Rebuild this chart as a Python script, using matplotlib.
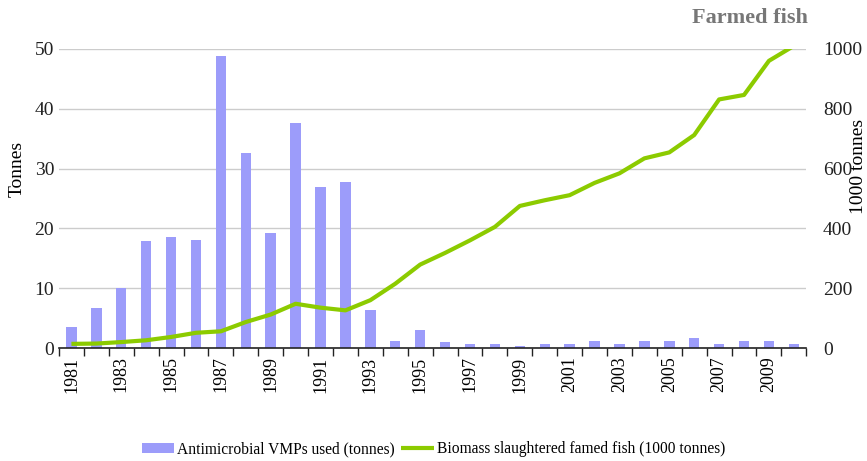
import numpy as np
import matplotlib.pyplot as plt

plt.rcParams['font.family'] = ['Liberation Serif', 'DejaVu Serif']

years = list(range(1981, 2011))
antimicrobial = [3.6, 6.7, 10.0, 17.9, 18.5, 18.1, 48.8, 32.6, 19.3, 37.6,
                 26.9, 27.7, 6.3, 1.2, 3.0, 1.0, 0.6, 0.7, 0.4, 0.7,
                 0.7, 1.2, 0.7, 1.1, 1.2, 1.6, 0.7, 1.1, 1.2, 0.7]
biomass = [14, 15, 20, 26, 37, 51, 56, 87, 112, 148,
           135, 126, 160, 215, 279, 318, 360, 405, 475, 494,
           511, 552, 584, 634, 654, 712, 831, 846, 960, 1010]

bar_color = '#9c9cfa'
line_color = '#8ccb00'

fig = plt.figure(figsize=(8.67, 4.61), dpi=100)
ax = fig.add_axes([0.068, 0.245, 0.862, 0.649])
ax2 = ax.twinx()

x = np.arange(len(years))
bars = ax.bar(x, antimicrobial, width=0.42, color=bar_color, zorder=2,
              label='Antimicrobial VMPs used (tonnes)')
line, = ax2.plot(x, biomass, color=line_color, lw=3, solid_capstyle='butt',
                 label='Biomass slaughtered famed fish (1000 tonnes)')

ax.set_xlim(-0.5, len(years) - 0.5)
ax.set_ylim(0, 50)
ax2.set_ylim(0, 1000)
ax.set_yticks(range(0, 51, 10))
ax2.set_yticks(range(0, 1001, 200))
ax.yaxis.grid(True, color='#cccccc', lw=1, zorder=0)
ax.set_axisbelow(True)

for a in (ax, ax2):
    for s in ('top', 'left', 'right'):
        a.spines[s].set_visible(False)
    a.tick_params(axis='y', length=0, labelsize=14, colors='#222222')
ax2.spines['bottom'].set_visible(False)
ax.spines['bottom'].set_color('#222222')
ax.spines['bottom'].set_linewidth(1.2)

ax.set_xticks(x[::2])
ax.set_xticklabels([str(y) for y in years[::2]], rotation=90, fontsize=13)
ax.tick_params(axis='x', which='major', length=0, pad=6)
ax.set_xticks(np.arange(-0.5, len(years), 1), minor=True)
ax.tick_params(axis='x', which='minor', length=6, width=1, color='#222222')

ax.set_ylabel('Tonnes', fontsize=14)
ax.yaxis.set_label_coords(-0.045, 0.6)
ax2.tick_params(axis='y', pad=12)

fig.text(0.99, 0.64, '1000 tonnes', rotation=90, fontsize=14,
         ha='center', va='center')
fig.text(0.932, 0.962, 'Farmed fish', fontsize=16, fontweight='bold',
         color='#777777', ha='right', va='center')

fig.legend([bars, line], [bars.get_label(), line.get_label()],
           loc='center', bbox_to_anchor=(0.5, 0.025), ncol=2, frameon=False,
           fontsize=11.2, handlelength=2.1, handletextpad=0.2, columnspacing=0.4)

fig.savefig('out.png', dpi=100)
